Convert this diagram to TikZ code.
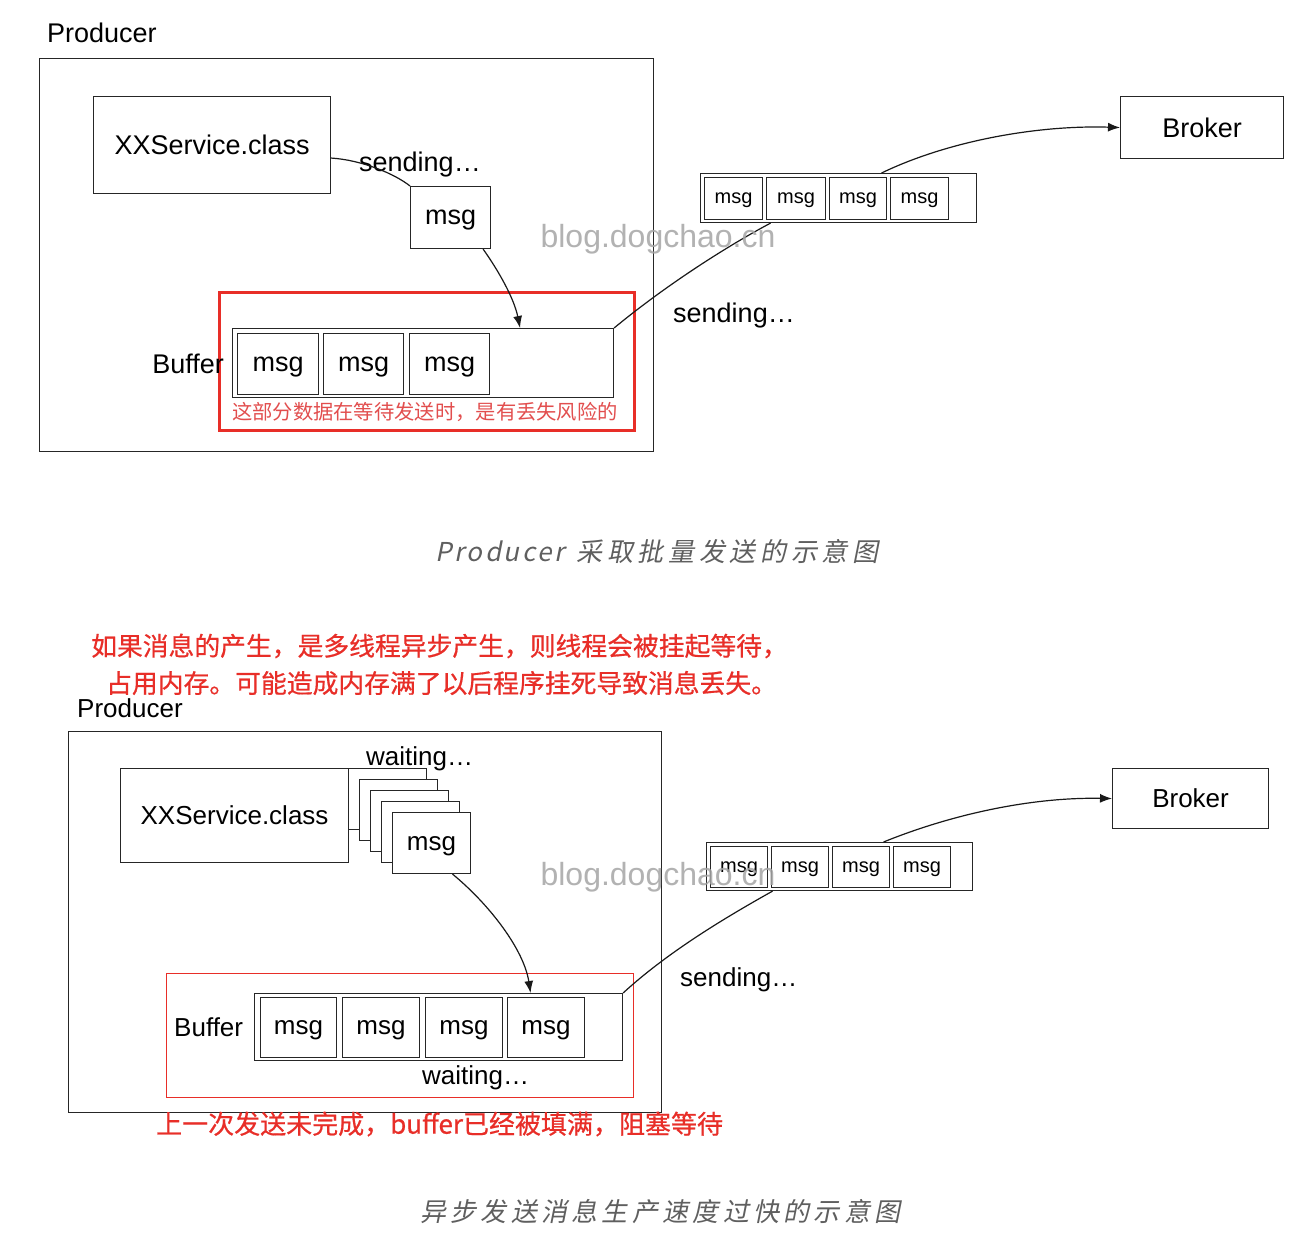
\documentclass[tikz,border=0pt]{standalone}
\usepackage{fontspec}
\setmainfont{Liberation Sans}
\newfontfamily\cjk{Noto Sans CJK SC}
\newfontfamily\cjkb[FakeBold=0.6]{Noto Sans CJK SC}
\newfontfamily\capf[FakeSlant=0.2]{Noto Sans CJK SC}
\usetikzlibrary{arrows.meta}
\newcommand\fsz[1]{\fontsize{#1}{#1}\selectfont}
\definecolor{wred}{RGB}{232,46,40}
\definecolor{lred}{RGB}{226,78,78}
\definecolor{capgray}{RGB}{95,95,95}
\definecolor{wmgray}{RGB}{165,165,165}
\begin{document}
\begin{tikzpicture}[x=1pt,y=-1pt,
  bx/.style={draw=black!85, line width=1.1pt, anchor=north west, inner sep=0pt, fill=white, text depth=0pt, font=\fsz{27}},
  sbx/.style={bx, font=\fsz{20}},
  frame/.style={draw=black!85, line width=1.2pt, anchor=north west, inner sep=0pt},
  lbl/.style={anchor=west, inner sep=0pt, font=\fsz{27}},
  conn/.style={draw=black!90, line width=1.2pt},
  arr/.style={conn, -{Latex[length=12pt,width=9pt]}},
  wm/.style={text=wmgray, font=\fsz{32}, inner sep=0pt, text opacity=0.85},
  captxt/.style={anchor=west, inner sep=0pt, text=capgray, font=\capf\fsz{26}}
]
\useasboundingbox (0,0) rectangle (1305,1246);
\fill[white] (0,0) rectangle (1305,1246);

%================ TOP =================
\node[frame, minimum width=614pt, minimum height=393pt] (prod1) at (39,58) {};
\node[lbl] (prodlbl1) at (47,33) {Producer};
\node[bx, minimum width=237pt, minimum height=97pt] (svc1) at (93,96) {XXService.class};
\node[bx, minimum width=80pt, minimum height=62pt] (m1) at (410,186) {msg};
\node[lbl] (send1) at (359,165) {sending…};
\node[frame, draw=wred, line width=3pt, minimum width=415pt, minimum height=138pt] (red1) at (218,291) {};
\node[bx, minimum width=381pt, minimum height=69pt] (buf1) at (232,328) {};
\node[bx, minimum width=81pt, minimum height=61pt] (b1a) at (237,333) {msg};
\node[bx, minimum width=80pt, minimum height=61pt] (b1b) at (323,333) {msg};
\node[bx, minimum width=80pt, minimum height=61pt] (b1c) at (409,333) {msg};
\node[anchor=east, inner sep=0pt, font=\fsz{27}] (buflbl1) at (224,364) {Buffer};
\node[inner sep=0pt, text=lred, font=\cjk\fsz{20.3}] (risk) at (425,412) {这部分数据在等待发送时，是有丢失风险的};

\node[bx, minimum width=276pt, minimum height=49pt] (q1) at (700,173) {};
\node[sbx, minimum width=58pt, minimum height=42pt] (q1a) at (704,177) {msg};
\node[sbx, minimum width=59pt, minimum height=42pt] (q1b) at (766,177) {msg};
\node[sbx, minimum width=57pt, minimum height=42pt] (q1c) at (829,177) {msg};
\node[sbx, minimum width=58pt, minimum height=42pt] (q1d) at (890,177) {msg};
\node[bx, minimum width=163pt, minimum height=62pt] (br1) at (1120,96) {Broker};
\node[lbl] (send2) at (673,316) {sending…};

\draw[conn] ([yshift=-13pt]svc1.east) .. controls (362,160) and (395,174) .. (m1.north west);
\draw[arr] ([xshift=-8pt]m1.south east) .. controls (498,270) and (514,298) .. ([xshift=97pt]buf1.north);
\draw[conn] (buf1.north east) .. controls (660,290) and (720,250) .. ([xshift=-68pt]q1.south);
\draw[arr] ([xshift=43pt]q1.north) .. controls (950,140) and (1040,125) .. (br1.west);

\node[wm] (wm1) at (658,239) {blog.dogchao.cn};

\node[captxt] (cap1) at (435,552) {{\addfontfeature{LetterSpace=10}Producer}\hspace*{12pt}{\addfontfeature{LetterSpace=18}采取批量发送的示意图}};

%================ BOTTOM =================
\node[anchor=west, inner sep=0pt, text=wred, font=\cjkb\fsz{25.8}] (warn1) at (91,646) {如果消息的产生，是多线程异步产生，则线程会被挂起等待，};
\node[anchor=west, inner sep=0pt, text=wred, font=\cjkb\fsz{25.8}] (warn2) at (106,683) {占用内存。可能造成内存满了以后程序挂死导致消息丢失。};
\node[lbl, font=\fsz{26}] (prodlbl2) at (77,708) {Producer};
\node[frame, minimum width=593pt, minimum height=381pt] (prod2) at (68,731) {};
\node[lbl, font=\fsz{26}] (wait1) at (366,759) {waiting…};
\node[bx, font=\fsz{26}, minimum width=228pt, minimum height=94pt] (svc2) at (120,768) {XXService.class};
\node[bx, minimum width=78pt, minimum height=61pt] (sA) at (348,768) {};
\node[bx, minimum width=78pt, minimum height=61pt] (sB) at (359,779) {};
\node[bx, minimum width=78pt, minimum height=61pt] (sC) at (370,790) {};
\node[bx, minimum width=78pt, minimum height=61pt] (sD) at (381,801) {};
\node[bx, font=\fsz{26}, minimum width=78pt, minimum height=61pt] (sE) at (392,812) {msg};

\node[frame, draw=wred, line width=1.3pt, minimum width=467pt, minimum height=124pt] (red2) at (166,973) {};
\node[bx, minimum width=368pt, minimum height=67pt] (buf2) at (254,993) {};
\node[bx, font=\fsz{26}, minimum width=76pt, minimum height=60pt] (b2a) at (260,997) {msg};
\node[bx, font=\fsz{26}, minimum width=77pt, minimum height=60pt] (b2b) at (342,997) {msg};
\node[bx, font=\fsz{26}, minimum width=77pt, minimum height=60pt] (b2c) at (425,997) {msg};
\node[bx, font=\fsz{26}, minimum width=77pt, minimum height=60pt] (b2d) at (507,997) {msg};
\node[lbl, font=\fsz{26}] (buflbl2) at (174,1027) {Buffer};
\node[lbl, font=\fsz{26}] (wait2) at (422,1078) {waiting…};
\node[anchor=west, inner sep=0pt, text=wred, font=\cjkb\fsz{26}] (warn3) at (156,1124) {上一次发送未完成，buffer已经被填满，阻塞等待};

\node[bx, minimum width=266pt, minimum height=48pt] (q2) at (706,842) {};
\node[sbx, minimum width=57pt, minimum height=41pt] (q2a) at (710,846) {msg};
\node[sbx, minimum width=57pt, minimum height=41pt] (q2b) at (771,846) {msg};
\node[sbx, minimum width=57pt, minimum height=41pt] (q2c) at (832,846) {msg};
\node[sbx, minimum width=57pt, minimum height=41pt] (q2d) at (893,846) {msg};
\node[bx, font=\fsz{26}, minimum width=156pt, minimum height=60pt] (br2) at (1112,768) {Broker};
\node[lbl, font=\fsz{26}] (send3) at (680,980) {sending…};

\draw[arr] ([xshift=21pt]sE.south) .. controls (490,905) and (524,950) .. ([xshift=92pt]buf2.north);
\draw[conn] (buf2.north east) .. controls (670,950) and (730,915) .. ([xshift=-67pt]q2.south);
\draw[arr] ([xshift=44pt]q2.north) .. controls (950,815) and (1030,797) .. (br2.west);

\node[wm] (wm2) at (658,877) {blog.dogchao.cn};

\node[captxt] (cap2) at (420,1212) {\addfontfeature{LetterSpace=16.5}异步发送消息生产速度过快的示意图};
\end{tikzpicture}
\end{document}
